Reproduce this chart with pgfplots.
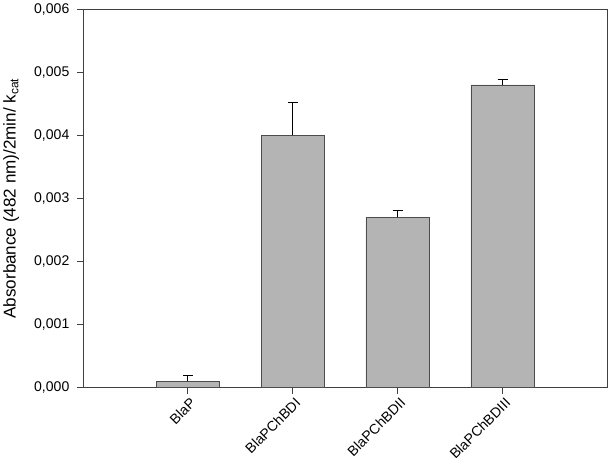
\documentclass[border=0pt]{standalone}
\usepackage{pgfplots}
\pgfplotsset{compat=1.18}
\usepackage{fontspec}
\setmainfont{Liberation Sans}
\definecolor{barfill}{RGB}{180,180,180}
\definecolor{axgray}{RGB}{64,64,64}
\begin{document}
\begin{tikzpicture}
\begin{axis}[
  scale only axis,
  width=521bp, height=376bp,
  xmin=-1, xmax=4,
  ymin=0, ymax=0.006,
  xtick={0,1,2,3},
  xticklabels={BlaP,BlaPChBDI,BlaPChBDII,BlaPChBDIII},
  tick label style={font=\fontsize{14}{16}\selectfont},
  x tick label style={rotate=45, anchor=north east, inner sep=1pt, yshift=-2pt},
  y tick label style={xshift=-4bp},
  ytick={0,0.001,0.002,0.003,0.004,0.005,0.006},
  scaled y ticks=false,
  yticklabel style={/pgf/number format/.cd, fixed, fixed zerofill, precision=3, use comma, assume math mode=true},
  tick align=outside,
  xtick pos=bottom, ytick pos=left,
  major tick length=6bp,
  axis line style={axgray, line width=0.8pt},
  tick style={axgray, line width=0.8pt},
  ylabel={Absorbance (482 nm)/2min/ k\textsubscript{cat}},
  ylabel style={font=\fontsize{17}{19}\selectfont, yshift=8bp},
  ybar, bar width=0.606,
]
\addplot[fill=barfill, draw=black!70, line width=0.6pt,
  error bars/.cd, y dir=plus, y explicit,
  error bar style={black, line width=0.8pt},
  error mark options={black, line width=0.8pt, mark size=5bp, rotate=90}]
  coordinates {
    (0,0.00010) +- (0,0.00010)
    (1,0.00400) +- (0,0.00052)
    (2,0.00270) +- (0,0.00011)
    (3,0.00480) +- (0,0.00008)
  };
\end{axis}
\end{tikzpicture}
\end{document}
